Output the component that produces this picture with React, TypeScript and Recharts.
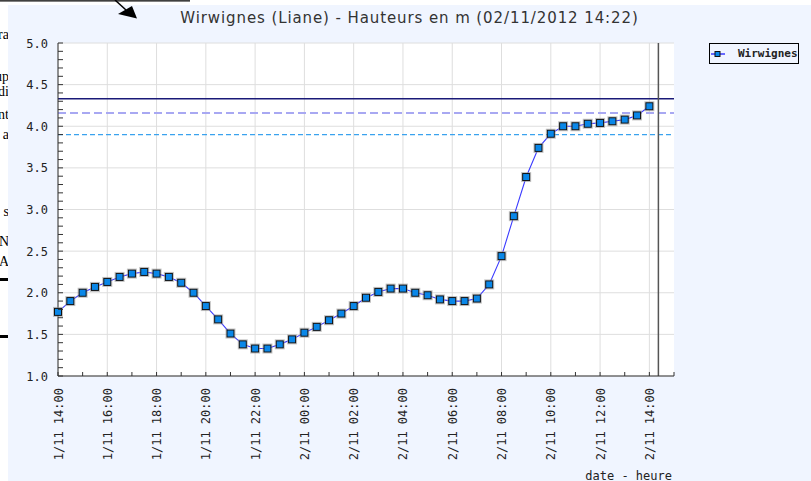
import React from "react";
import {
  CartesianGrid,
  Legend,
  Line,
  LineChart,
  ReferenceLine,
  XAxis,
  YAxis,
} from "recharts";

// relevés toutes les 30 min, du 1/11 14:00 au 2/11 14:00
const heures = [
  "14:00", "14:30", "15:00", "15:30", "16:00", "16:30", "17:00", "17:30",
  "18:00", "18:30", "19:00", "19:30", "20:00", "20:30", "21:00", "21:30",
  "22:00", "22:30", "23:00", "23:30", "00:00", "00:30", "01:00", "01:30",
  "02:00", "02:30", "03:00", "03:30", "04:00", "04:30", "05:00", "05:30",
  "06:00", "06:30", "07:00", "07:30", "08:00", "08:30", "09:00", "09:30",
  "10:00", "10:30", "11:00", "11:30", "12:00", "12:30", "13:00", "13:30",
  "14:00",
];
const hauteurs = [
  1.77, 1.9, 2.0, 2.07, 2.13, 2.19, 2.23, 2.25,
  2.23, 2.19, 2.12, 2.0, 1.84, 1.68, 1.51, 1.38,
  1.33, 1.33, 1.38, 1.44, 1.52, 1.59, 1.67, 1.75,
  1.84, 1.94, 2.01, 2.05, 2.05, 2.0, 1.97, 1.92,
  1.9, 1.9, 1.93, 2.1, 2.44, 2.92, 3.39, 3.74,
  3.91, 4.0, 4.0, 4.03, 4.04, 4.06, 4.08, 4.13,
  4.24,
];
const xLabels = [
  "1/11 14:00", "1/11 16:00", "1/11 18:00", "1/11 20:00", "1/11 22:00",
  "2/11 00:00", "2/11 02:00", "2/11 04:00", "2/11 06:00", "2/11 08:00",
  "2/11 10:00", "2/11 12:00", "2/11 14:00",
];
const yMajors = [1.0, 1.5, 2.0, 2.5, 3.0, 3.5, 4.0, 4.5, 5.0];
const seuilHaut = 4.33;
const seuilMoyen = 4.16;
const seuilBas = 3.9;
const heureReleve = "14:22"; // 2/11

const HEURE_DEBUT = 14;

// heures écoulées depuis 1/11 14:00
function offset(hhmm: string, jour: number) {
  const [h, m] = hhmm.split(":").map(Number);
  return h + m / 60 + 24 * jour - HEURE_DEBUT;
}

const data = (() => {
  let jour = 0;
  let prev = -1;
  return heures.map((hm, i) => {
    const h = Number(hm.split(":")[0]);
    if (h < prev) jour += 1;
    prev = h;
    return { t: offset(hm, jour), h: hauteurs[i] };
  });
})();

const xTicks = Array.from({ length: 26 }, (_, i) => i);
const yTicks = Array.from({ length: 41 }, (_, i) => Math.round((1 + i * 0.1) * 10) / 10);
const maintenant = offset(heureReleve, 1);

const mono = "'DejaVu Sans Mono', monospace";
const BG = "#F0F5FF";

function XTick({ x, y, payload }: any) {
  const v = payload.value as number;
  const label = v % 2 === 0 ? xLabels[v / 2] : null;
  return (
    <g>
      <line x1={x} y1={y} x2={x} y2={y - 4} stroke="#333" />
      {label && (
        <text
          x={x + 4.5}
          y={y + 12}
          transform={`rotate(-90 ${x + 4.5} ${y + 12})`}
          textAnchor="end"
          fontFamily={mono}
          fontSize={12}
          fill="#222"
        >
          {label}
        </text>
      )}
    </g>
  );
}

function YTick({ x, y, payload }: any) {
  const v = payload.value as number;
  const major = Math.abs(v * 2 - Math.round(v * 2)) < 1e-6;
  return (
    <g>
      <line x1={x} y1={y} x2={x + 5} y2={y} stroke="#333" />
      {major && (
        <text
          x={x - 10}
          y={y + 4.5}
          textAnchor="end"
          fontFamily={mono}
          fontSize={12}
          fill="#222"
        >
          {v.toFixed(1)}
        </text>
      )}
    </g>
  );
}

function Carre({ cx, cy, index }: any) {
  return (
    <g key={index}>
      <rect x={cx - 4.5} y={cy - 4.5} width={9} height={9} fill="none" stroke="#999" strokeOpacity={0.6} />
      <rect x={cx - 3.5} y={cy - 3.5} width={7} height={7} fill="#0A87E8" stroke="#111" />
    </g>
  );
}

function Legende() {
  return (
    <div
      style={{
        border: "1px solid #000",
        background: BG,
        height: 21,
        display: "flex",
        alignItems: "center",
        boxSizing: "border-box",
      }}
    >
      <svg width={16} height={8} style={{ marginLeft: 1 }}>
        <line x1={0} y1={4} x2={14} y2={4} stroke="#3a3aff" strokeWidth={1.5} />
        <rect x={4} y={1.5} width={5} height={5} fill="#0A87E8" stroke="#111" />
      </svg>
      <span
        style={{
          marginLeft: 11,
          fontFamily: mono,
          fontWeight: "bold",
          fontSize: 11,
          color: "#222",
        }}
      >
        Wirwignes
      </span>
    </div>
  );
}

const fragments = [
  { t: "ra", y: 35 },
  { t: "up", y: 77 },
  { t: "di", y: 92 },
  { t: "nt", y: 115 },
  { t: "a", y: 135 },
  { t: "s", y: 212 },
  { t: "N", y: 242 },
  { t: "A", y: 262 },
];

export default function App() {
  return (
    <div
      style={{
        position: "absolute",
        left: 0,
        top: 0,
        width: 811,
        height: 481,
        background: "#fff",
        overflow: "hidden",
      }}
    >
      {fragments.map((f) => (
        <div
          key={f.t + f.y}
          style={{
            position: "absolute",
            left: -22,
            width: 31,
            top: f.y - 9,
            textAlign: "right",
            fontFamily: "'Liberation Serif', serif",
            fontSize: 14,
            lineHeight: "18px",
            color: "#000",
          }}
        >
          {f.t}
        </div>
      ))}
      <div style={{ position: "absolute", left: 0, top: 278, width: 8, height: 3, background: "#000" }} />
      <div style={{ position: "absolute", left: 0, top: 335, width: 8, height: 3, background: "#000" }} />

      <div style={{ position: "absolute", left: 8, top: 5, width: 803, height: 476, background: BG }}>
        <div
          style={{
            position: "absolute",
            left: 0,
            width: 803,
            top: 4,
            textAlign: "center",
            fontFamily: "'DejaVu Sans', sans-serif",
            fontSize: 15,
            letterSpacing: 0.9,
            color: "#333",
            zIndex: 2,
          }}
        >
          Wirwignes (Liane) - Hauteurs en m (02/11/2012 14:22)
        </div>
        <LineChart
          width={803}
          height={476}
          data={data}
          margin={{ top: 38, right: 137, bottom: 0, left: 0 }}
        >
          <CartesianGrid
            fill="#fff"
            stroke="#dedede"
            horizontalValues={yMajors}
            verticalValues={xTicks.filter((v) => v % 2 === 0)}
          />
          <XAxis
            type="number"
            dataKey="t"
            domain={[0, 25]}
            ticks={xTicks}
            interval={0}
            tick={XTick}
            tickLine={false}
            tickSize={0}
            tickMargin={0}
            axisLine={{ stroke: "#333" }}
            height={105}
          />
          <YAxis
            type="number"
            domain={[1, 5]}
            ticks={yTicks}
            interval={0}
            tick={YTick}
            tickLine={false}
            tickSize={0}
            tickMargin={0}
            axisLine={{ stroke: "#333" }}
            width={50}
          />
          <ReferenceLine y={seuilHaut} stroke="#1a1a78" strokeWidth={1.5} />
          <ReferenceLine y={seuilMoyen} stroke="#a8a8f2" strokeWidth={2} strokeDasharray="8 4" />
          <ReferenceLine y={seuilBas} stroke="#3aa2ee" strokeWidth={1.3} strokeDasharray="5 3" />
          <ReferenceLine x={maintenant} stroke="#555" strokeWidth={1.5} />
          <Line
            type="linear"
            dataKey="h"
            stroke="#3a3aff"
            strokeWidth={1.1}
            dot={Carre}
            activeDot={false}
            isAnimationActive={false}
          />
          <Legend
            layout="horizontal"
            verticalAlign="middle"
            align="center"
            content={() => <Legende />}
            wrapperStyle={{ top: 38, left: 701, width: 90, height: 23 }}
          />
        </LineChart>
        <div
          style={{
            position: "absolute",
            right: 803 - 664,
            top: 464,
            fontFamily: mono,
            fontSize: 12,
            color: "#222",
          }}
        >
          date - heure
        </div>
      </div>

      <svg width={811} height={30} style={{ position: "absolute", left: 0, top: 0 }}>
        <line x1={0} y1={0.8} x2={190} y2={0.8} stroke="#000" strokeWidth={1.2} />
        <line x1={115} y1={0} x2={126} y2={10} stroke="#000" strokeWidth={1.5} />
        <polygon points="118,14 132,6 137,18.5" fill="#000" />
      </svg>
    </div>
  );
}
